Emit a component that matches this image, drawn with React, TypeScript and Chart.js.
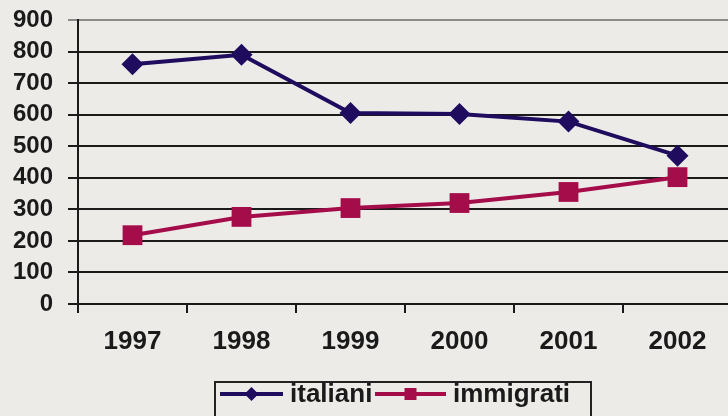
import React, { useEffect, useRef } from "react";
import { Chart, registerables } from "chart.js";

Chart.register(...registerables);

const categories = ["1997", "1998", "1999", "2000", "2001", "2002"];
const italiani = [760, 790, 605, 602, 578, 470];
const immigrati = [218, 276, 304, 320, 355, 402];
const seriesNames = ["italiani", "immigrati"];
const yMin = 0;
const yMax = 900;
const yStep = 100;

const NAVY = "#1f0c5e";
const MAGENTA = "#a50d4a";
const BG = "#ecebe7";
const FONT = "'Liberation Sans', Arial, sans-serif";

const legendPlugin = {
  id: "boxLegend",
  afterDraw(chart: any) {
    const ctx = chart.ctx;
    ctx.save();
    const bx = 215, by = 382, bw = 376, bh = 44;
    ctx.strokeStyle = "#222";
    ctx.lineWidth = 2;
    ctx.strokeRect(bx, by, bw, bh);
    const ly = 394;
    ctx.font = `bold 26px ${FONT}`;
    ctx.textBaseline = "middle";
    ctx.textAlign = "left";
    const items = [
      { x0: 220, x1: 283, tx: 290 },
      { x0: 375, x1: 446, tx: 453 },
    ];
    chart.data.datasets.forEach((ds: any, i: number) => {
      const it = items[i];
      ctx.strokeStyle = ds.borderColor;
      ctx.lineWidth = 4;
      ctx.beginPath();
      ctx.moveTo(it.x0, ly);
      ctx.lineTo(it.x1, ly);
      ctx.stroke();
      ctx.fillStyle = ds.borderColor;
      const cx = (it.x0 + it.x1) / 2;
      if (ds.pointStyle === "rectRot") {
        ctx.beginPath();
        ctx.moveTo(cx, ly - 7);
        ctx.lineTo(cx + 7, ly);
        ctx.lineTo(cx, ly + 7);
        ctx.lineTo(cx - 7, ly);
        ctx.closePath();
        ctx.fill();
      } else {
        ctx.fillRect(cx - 6, ly - 6, 12, 12);
      }
      ctx.fillStyle = "#1a1a1a";
      ctx.fillText(ds.label, it.tx, ly + 1);
    });
    ctx.restore();
  },
};

export default function App() {
  const ref = useRef<HTMLCanvasElement | null>(null);
  useEffect(() => {
    if (!ref.current) return;
    const chart = new Chart(ref.current, {
      type: "line",
      data: {
        labels: categories,
        datasets: [
          {
            label: seriesNames[0],
            data: italiani,
            borderColor: NAVY,
            backgroundColor: NAVY,
            borderWidth: 4,
            pointStyle: "rectRot",
            pointRadius: 11,
            pointBorderWidth: 0,
            pointBackgroundColor: NAVY,
            tension: 0,
          },
          {
            label: seriesNames[1],
            data: immigrati,
            borderColor: MAGENTA,
            backgroundColor: MAGENTA,
            borderWidth: 4,
            pointStyle: "rect",
            pointRadius: 14,
            pointBorderWidth: 0,
            pointBackgroundColor: MAGENTA,
            tension: 0,
          },
        ],
      },
      options: {
        animation: false,
        responsive: false,
        maintainAspectRatio: false,
        layout: { padding: { top: 20, left: 0, right: 0, bottom: 0 } },
        plugins: {
          legend: { display: false },
          tooltip: { enabled: false },
        },
        scales: {
          x: {
            type: "category",
            offset: true,
            grid: {
              offset: true,
              drawOnChartArea: false,
              drawTicks: true,
              tickLength: 9,
              color: "#1a1a1a",
              lineWidth: 2,
            },
            border: { display: true, color: "#1a1a1a", width: 2 },
            ticks: {
              color: "#1a1a1a",
              padding: 13,
              font: { family: FONT, size: 26, weight: "bold" },
            },
            afterFit: (s: any) => {
              s.height = 112;
            },
          },
          y: {
            min: yMin,
            max: yMax,
            grid: {
              color: (c: any) => (c.tick && c.tick.value === yMax ? "#8a8a8a" : "#1a1a1a"),
              lineWidth: 2,
              tickLength: 10,
              drawTicks: true,
            },
            border: { display: true, color: "#1a1a1a", width: 2 },
            ticks: {
              stepSize: yStep,
              autoSkip: false,
              color: "#1a1a1a",
              padding: 15,
              font: { family: FONT, size: 24, weight: "bold" },
            },
            afterFit: (s: any) => {
              s.width = 78;
              s.paddingTop = 0;
              s.paddingBottom = 0;
            },
          },
        },
      },
      plugins: [legendPlugin],
    } as any);
    return () => chart.destroy();
  }, []);
  return (
    <div
      style={{
        position: "fixed",
        left: 0,
        top: 0,
        width: 728,
        height: 416,
        overflow: "hidden",
        background: BG,
      }}
    >
      <canvas ref={ref} width={746} height={416} style={{ display: "block" }} />
    </div>
  );
}
